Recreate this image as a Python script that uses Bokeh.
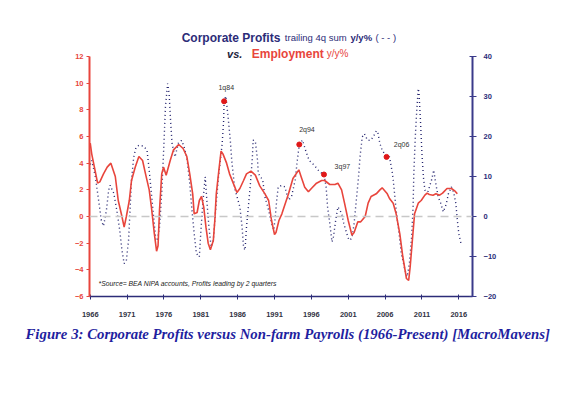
from bokeh.plotting import figure
from bokeh.models import Range1d, LinearAxis, FixedTicker, Label, Span, Title
from bokeh.embed import file_html
from bokeh.resources import INLINE

# ---------------- data ----------------
emp_years = [1966.0, 1966.2, 1966.6, 1967.0, 1967.3, 1967.8, 1968.3, 1968.8, 1969.4, 1969.8,
             1970.3, 1970.6, 1970.9, 1971.3, 1971.6, 1972.1, 1972.6, 1973.1, 1973.5, 1974.0,
             1974.3, 1974.7, 1975.0, 1975.2, 1975.4, 1975.7, 1975.95, 1976.3, 1976.85, 1977.3,
             1978.0, 1978.6, 1979.1, 1979.5, 1979.9, 1980.1, 1980.5, 1980.8, 1981.1, 1981.4,
             1981.7, 1982.0, 1982.3, 1982.7, 1982.9, 1983.1, 1983.5, 1983.75, 1984.0, 1984.5,
             1984.9, 1985.4, 1985.9, 1986.3, 1986.8, 1987.2, 1987.8, 1988.4, 1989.0, 1989.7,
             1990.2, 1990.6, 1991.0, 1991.2, 1991.6, 1992.0, 1992.9, 1993.5, 1994.3, 1994.6,
             1995.1, 1995.6, 1996.0, 1996.7, 1997.4, 1997.8, 1998.5, 1999.2, 1999.6, 2000.1,
             2000.5, 2001.0, 2001.5, 2001.8, 2002.3, 2002.7, 2003.3, 2003.7, 2004.1, 2004.8,
             2005.3, 2005.6, 2006.3, 2006.6, 2007.1, 2007.5, 2008.0, 2008.4, 2008.9, 2009.2,
             2009.4, 2009.7, 2010.0, 2010.5, 2010.9, 2011.4, 2011.7, 2012.0, 2012.5, 2012.9,
             2013.4, 2013.8, 2014.4, 2015.0, 2015.5, 2015.8]
emp_yoy = [5.5, 4.7, 3.6, 2.5, 2.6, 3.2, 3.7, 4.0, 3.0, 1.2,
           0.0, -0.8, 0.0, 1.2, 2.7, 3.7, 4.5, 4.2, 3.2, 2.0,
           0.7, -1.3, -2.6, -2.2, 0.5, 3.2, 3.7, 3.1, 4.2, 5.0,
           5.4, 5.1, 4.5, 3.2, 1.7, 0.2, 0.3, 1.2, 1.5, 0.7,
           -0.8, -2.0, -2.5, -1.8, -0.3, 1.7, 3.7, 4.9, 4.7, 4.0,
           3.2, 2.5, 1.8, 2.1, 2.7, 3.2, 3.4, 3.1, 2.3, 1.7,
           1.2, -0.3, -1.35, -1.2, -0.3, 0.2, 1.7, 2.85, 3.5, 3.0,
           2.2, 1.85, 2.1, 2.5, 2.7, 2.7, 2.4, 2.4, 2.5, 2.0,
           1.0, -0.3, -1.4, -1.2, -0.4, -0.4, 0.0, 1.0, 1.5, 1.7,
           2.0, 2.15, 1.7, 1.35, 1.0, 0.2, -1.3, -3.0, -4.65, -4.8,
           -3.8, -1.8, 0.2, 1.0, 1.2, 1.6, 1.75, 1.65, 1.6, 1.7,
           1.6, 1.75, 2.1, 2.1, 1.9, 1.7]

prof_years = [1966.0, 1966.2, 1966.7, 1967.2, 1967.5, 1967.8, 1968.2, 1968.5, 1968.7, 1969.2,
              1969.6, 1970.0, 1970.3, 1970.6, 1970.9, 1971.2, 1971.4, 1971.6, 1971.9, 1972.2,
              1972.6, 1973.2, 1973.7, 1974.0, 1974.3, 1974.6, 1974.9, 1975.1, 1975.4, 1975.7,
              1976.0, 1976.2, 1976.5, 1976.7, 1976.9, 1977.1, 1977.5, 1978.0, 1978.4, 1978.7,
              1979.1, 1979.5, 1979.8, 1980.1, 1980.4, 1980.8, 1981.0, 1981.3, 1981.6, 1981.9,
              1982.1, 1982.4, 1982.7, 1982.9, 1983.4, 1983.9, 1984.1, 1984.16, 1984.4, 1984.7,
              1985.0, 1985.2, 1985.6, 1986.3, 1986.6, 1986.8, 1987.0, 1987.2, 1987.7, 1988.0,
              1988.1, 1988.4, 1988.7, 1988.8, 1989.4, 1989.7, 1990.2, 1990.6, 1990.9, 1991.1,
              1991.3, 1991.5, 1992.0, 1992.4, 1992.9, 1993.3, 1993.8, 1994.1, 1994.36, 1994.8,
              1995.2, 1995.7, 1996.4, 1997.1, 1997.71, 1998.0, 1998.2, 1998.5, 1998.8, 1999.0,
              1999.3, 1999.6, 2000.1, 2000.4, 2000.8, 2001.1, 2001.5, 2001.8, 2002.1, 2002.4,
              2002.6, 2002.9, 2003.2, 2003.6, 2004.0, 2004.4, 2004.8, 2005.0, 2005.3, 2005.6,
              2006.2, 2006.6, 2007.0, 2007.2, 2007.5, 2007.9, 2008.2, 2008.7, 2009.0, 2009.3,
              2009.6, 2009.8, 2009.9, 2010.1, 2010.3, 2010.5, 2010.6, 2010.8, 2011.0, 2011.2,
              2011.4, 2011.8, 2012.3, 2012.6, 2012.8, 2013.2, 2013.5, 2013.9, 2014.3, 2014.6,
              2015.0, 2015.3, 2015.6, 2015.8, 2016.0, 2016.3]
prof_yoy = [13.0, 14.0, 9.9, 3.2, -0.9, -2.4, 1.6, 6.6, 7.8, 5.75,
            1.6, -3.4, -8.4, -11.75, -11.0, -5.9, 1.6, 9.1, 14.9, 17.2,
            17.8, 17.6, 16.6, 11.6, 5.75, -0.1, -5.9, -6.0, -2.6, 5.75,
            18.25, 27.4, 33.25, 30.75, 24.0, 18.25, 14.9, 18.6, 19.0, 17.6,
            14.9, 8.25, 1.6, -4.25, -9.25, -10.1, -4.0, 4.0, 9.9, 2.0,
            -2.6, -7.6, -6.0, -0.9, 9.9, 18.25, 24.0, 28.8, 30.1, 24.9,
            19.1, 14.0, 7.0, 2.4, -2.6, -7.6, -8.4, -2.6, 7.4, 14.9,
            19.1, 18.8, 14.0, 10.75, 9.1, 4.9, 1.6, -1.75, -3.4, -0.1,
            4.1, 7.4, 7.8, 7.4, 4.1, 4.9, 9.1, 14.1, 18.0, 19.1,
            16.6, 14.0, 12.8, 11.2, 10.5, 7.4, 2.4, -1.75, -6.35, -5.1,
            -0.9, 2.4, 0.8, -1.75, -4.25, -5.9, -5.5, -1.75, 4.1, 9.9,
            14.9, 19.9, 20.7, 19.1, 19.0, 19.9, 21.4, 21.2, 18.25, 16.6,
            14.9, 14.9, 10.75, 7.4, 1.6, -4.25, -9.25, -13.4, -15.0, -11.75,
            -5.1, 2.4, 10.75, 19.9, 26.6, 32.0, 31.0, 24.0, 15.75, 9.9,
            6.6, 6.1, 9.1, 11.6, 9.1, 4.9, 3.6, 1.15, 3.1, 5.75,
            7.4, 6.1, 3.25, -0.9, -4.25, -6.75]

mark_labels = ["1q84", "2q94", "3q97", "2q06"]
mark_years = [1984.16, 1994.36, 1997.71, 2006.2]
mark_vals = [28.8, 18.0, 10.5, 14.9]

year_ticks = [1966, 1971, 1976, 1981, 1986, 1991, 1996, 2001, 2006, 2011, 2016]
emp_ticks = [-6, -4, -2, 0, 2, 4, 6, 8, 10, 12]
prof_ticks = [-20, -10, 0, 10, 20, 30, 40]

# ---------------- styling ----------------
RED = "#e8453c"
NAVY = "#2c2c78"
FONT = "Liberation Sans"

# frame covers the title area too; the axes are bounded to their value spans
FRAME_H = 296
PX_PER_UNIT = 240 / 18.0
y_top = -6 + FRAME_H / PX_PER_UNIT
r_top = -20 + FRAME_H / 4.0

p = figure(width=565, height=356, output_backend="svg", toolbar_location=None,
           x_range=Range1d(1965.9, 2017.86), y_range=Range1d(-6, y_top),
           min_border_left=89, min_border_right=93, min_border_top=0,
           min_border_bottom=60, title=None)
p.extra_y_ranges = {"prof": Range1d(-20, r_top)}
p.outline_line_color = None
p.xgrid.visible = False
p.ygrid.visible = False

# x axis
xa = p.xaxis[0]
xa.ticker = FixedTicker(ticks=year_ticks)
xa.axis_line_color = NAVY
xa.axis_line_width = 1.5
xa.major_tick_line_color = NAVY
xa.major_tick_in = 2
xa.major_tick_out = 3
xa.minor_tick_line_color = None
xa.major_label_text_font = FONT
xa.major_label_text_font_style = "bold"
xa.major_label_text_font_size = "7.5px"
xa.major_label_text_color = "#333344"
xa.major_label_standoff = 12

# left axis
ya = p.yaxis[0]
ya.ticker = FixedTicker(ticks=emp_ticks)
ya.bounds = (-6, 12)
ya.axis_line_color = RED
ya.axis_line_width = 2
ya.major_tick_line_color = RED
ya.major_tick_in = 0
ya.major_tick_out = 3
ya.minor_tick_line_color = None
ya.major_label_text_font = FONT
ya.major_label_text_font_style = "bold"
ya.major_label_text_font_size = "7.5px"
ya.major_label_text_color = RED
ya.major_label_standoff = 3

# right axis
ra = LinearAxis(y_range_name="prof", ticker=FixedTicker(ticks=prof_ticks), bounds=(-20, 40))
ra.axis_line_color = "#3a3a8a"
ra.axis_line_width = 2
ra.major_tick_line_color = "#3a3a8a"
ra.major_tick_in = 3
ra.major_tick_out = 4
ra.minor_tick_line_color = None
ra.major_label_text_font = FONT
ra.major_label_text_font_style = "bold"
ra.major_label_text_font_size = "7.5px"
ra.major_label_text_color = NAVY
ra.major_label_standoff = 7
p.add_layout(ra, "right")

# zero line
p.add_layout(Span(location=0, dimension="width", line_color="#c8c8c8",
                  line_dash="8 5", line_width=1.5))

# series
p.line(prof_years, prof_yoy, y_range_name="prof", line_color="#23236e",
       line_width=1.4, line_dash="1 3")
p.line(emp_years, emp_yoy, line_color=RED, line_width=1.6)
p.scatter(mark_years, mark_vals, y_range_name="prof", size=5,
          fill_color="#e01818", line_color="#e01818")


def lab(x, y, text, size, color, style="normal", font=FONT, align="left"):
    p.add_layout(Label(x=x, y=y, text=text, text_font=font, text_font_size=size,
                       text_color=color, text_font_style=style, text_align=align,
                       text_baseline="middle"))


# point labels
lab_pos = [(1984.45, 9.69), (1995.40, 6.55), (2000.21, 3.72), (2008.24, 5.40)]
for t, (lx, ly) in zip(mark_labels, lab_pos):
    lab(lx, ly, t, "7px", "#333333", align="center")

# title pieces
lab(1978.40, 13.40, "Corporate Profits", "12px", NAVY, "bold")
lab(1992.40, 13.40, "trailing 4q sum", "9.5px", NAVY)
lab(2001.30, 13.40, "y/y%", "9.5px", NAVY, "bold")
lab(2004.70, 13.40, "( - - )", "9.5px", NAVY)
lab(1984.56, 12.20, "vs.", "11px", "#1e1e3c", "bold italic")
lab(1987.91, 12.20, "Employment", "12px", RED, "bold")
lab(1998.07, 12.20, "y/y%", "10px", RED)

# source note
lab(1967.12, -5.03, "*Source= BEA NIPA accounts, Profits leading by 2 quarters", "6.8px",
    "#222222", "italic")

# caption as a title below the x axis
cap = Title(text="Figure 3: Corporate Profits versus Non-farm Payrolls (1966-Present) [MacroMavens]",
            align="left", offset=-64, standoff=8, text_font="Liberation Serif",
            text_font_style="bold italic", text_font_size="14.8px", text_color="#1f1f9f")
p.add_layout(cap, "below")

open("out.html", "w").write(file_html(p, INLINE))
